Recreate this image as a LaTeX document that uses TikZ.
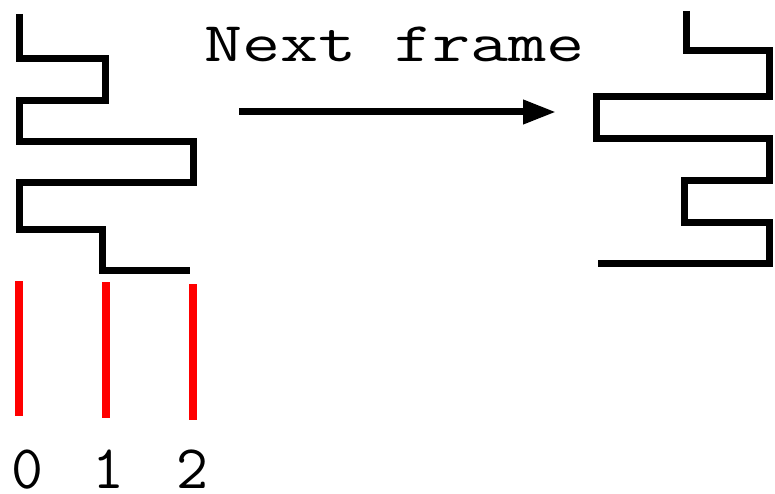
\documentclass[tikz,border=0pt]{standalone}
\usepackage{fontspec}
\usetikzlibrary{arrows.meta}
\begin{document}
\begin{tikzpicture}[x=1pt,y=-1pt,
  wave/.style={line width=7pt,line join=miter,black},
  marker/.style={line width=7.5pt,red},
  digit/.style={font=\ttfamily\fontsize{62}{62}\selectfont,inner sep=0pt},
  caption/.style={font=\ttfamily\fontsize{56}{56}\selectfont,inner sep=0pt,
    xscale=1.32,transform shape},
  motion/.style={line width=7pt,-{Triangle[length=33pt,width=23pt]}}]
  \useasboundingbox (0,0) rectangle (775,494);
  % waveform before the shift
  \draw[wave] (19,14) -- (19,59) -- (105,59) -- (105,101) -- (19,101)
    -- (19,142) -- (193,142) -- (193,183) -- (19,183) -- (19,229)
    -- (102,229) -- (102,270) -- (190,270);
  % waveform in the next frame
  \draw[wave] (686,11) -- (686,51) -- (769,51) -- (769,97) -- (596,97)
    -- (596,139) -- (769,139) -- (769,181) -- (684,181) -- (684,222)
    -- (769,222) -- (769,263) -- (598,263);
  % column markers
  \draw[marker] (19,281) -- (19,416);
  \draw[marker] (106,282) -- (106,418);
  \draw[marker] (193,284) -- (193,420);
  \node[digit,anchor=base] (n0) at (27,488) {0};
  \node[digit,anchor=base] (n1) at (108,488) {1};
  \node[digit,anchor=base] (n2) at (192,488) {2};
  % caption and arrow
  \node[caption,anchor=base west] (cap) at (204,62) {Next frame};
  \coordinate (from) at (239,112);
  \coordinate (to) at (556,112);
  \draw[motion] (from) -- (to);
\end{tikzpicture}
\end{document}
